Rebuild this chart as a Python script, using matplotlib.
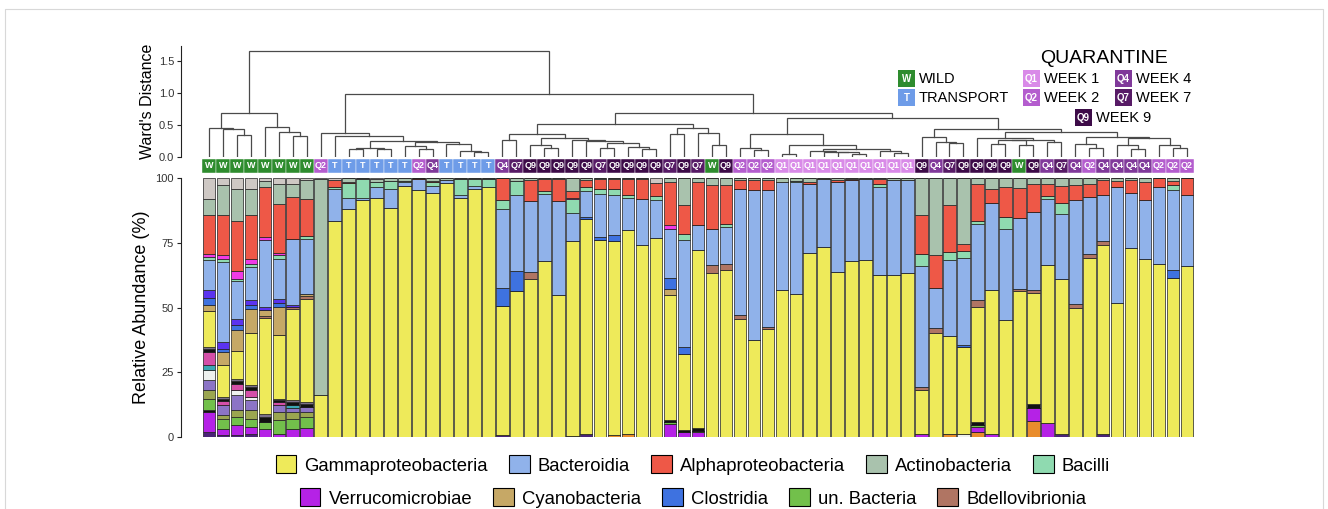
import matplotlib
matplotlib.use("Agg")
import matplotlib.pyplot as plt
from matplotlib.patches import Patch, Rectangle

plt.rcParams['font.family'] = ['Liberation Sans', 'DejaVu Sans']

N = 71


def sparse(vals):
    out = [0.0] * N
    for k, v in vals.items():
        out[k] = v
    return out


# sample group of each bar, left to right (dendrogram order)
samples = ['W', 'W', 'W', 'W', 'W', 'W', 'W', 'W', 'Q2', 'T',
           'T', 'T', 'T', 'T', 'T', 'Q2', 'Q4', 'T', 'T', 'T',
           'T', 'Q4', 'Q7', 'Q9', 'Q9', 'Q9', 'Q9', 'Q9', 'Q7', 'Q9',
           'Q9', 'Q9', 'Q9', 'Q7', 'Q9', 'Q7', 'W', 'Q9', 'Q2', 'Q2',
           'Q2', 'Q1', 'Q1', 'Q1', 'Q1', 'Q1', 'Q1', 'Q1', 'Q1', 'Q1',
           'Q1', 'Q9', 'Q4', 'Q7', 'Q9', 'Q9', 'Q9', 'Q9', 'W', 'Q9',
           'Q4', 'Q7', 'Q4', 'Q2', 'Q4', 'Q4', 'Q4', 'Q4', 'Q2', 'Q2', 'Q2']

group_colors = {'W': '#2E8C2E', 'T': '#6E9CE8', 'Q1': '#D98AE8',
                'Q2': '#B45DCE', 'Q4': '#80399A', 'Q7': '#571B66',
                'Q9': '#3D0B48'}

# Ward clustering tree: (left, right, height), leaves are bar indices
w_left = (0, (1, (2, 3, 0.34), 0.43), 0.45)
w_right = (4, (5, (6, 7, 0.33), 0.385), 0.47)
wild = (w_left, w_right, 0.69)

t_a = ((10, 11, 0.13), (12, 13, 0.13), 0.147)
t_b = (14, (15, 16, 0.13), 0.167)
t_c = (17, (18, (19, 20, 0.073), 0.094), 0.21)
trans = (8, (9, (t_a, (t_b, t_c, 0.23), 0.245), 0.33), 0.375)

f_grp = (26, (27, ((28, 29, 0.14), (30, (31, 32, 0.12), 0.16), 0.22), 0.245), 0.265)
e_grp = ((23, (24, 25, 0.14), 0.18), f_grp, 0.29)
m1 = ((21, 22, 0.26), e_grp, 0.365)
m2 = ((33, 34, 0.36), (35, (36, 37, 0.18), 0.37), 0.45)
mid = (m1, m2, 0.52)

q1_grp = ((41, 42, 0.05),
          ((43, (44, (45, (46, 47, 0.052), 0.078), 0.082), 0.094),
           (48, (49, 50, 0.068), 0.094), 0.125), 0.19)
p_grp = ((38, (39, 40, 0.115), 0.146), q1_grp, 0.365)
l_grp = (51, (52, (53, 54, 0.22), 0.235), 0.31)
s_grp = (55, (((56, 57, 0.21), (58, 59, 0.18), 0.26), (60, 61, 0.235), 0.27), 0.29)
t_grp = ((62, (63, 64, 0.14), 0.21),
         ((65, (66, 67, 0.13), 0.18), (68, (69, 70, 0.146), 0.18), 0.29), 0.31)
late = (p_grp, (l_grp, (s_grp, t_grp, 0.39), 0.43), 0.61)

tree = (wild, (trans, (mid, late, 0.69), 0.975), 1.65)

# relative abundances (%)
gamma = [13.8, 12.5, 10.6, 20.4, 36.9, 24.5, 35.1, 39.9, 16.3, 83.4,
         88.2, 91.4, 92.1, 88.5, 96.9, 95.2, 94.3, 98.1, 92.4, 95.9,
         96.5, 49.9, 56.4, 61.1, 67.8, 55.0, 75.1, 83.0, 76.2, 75.1,
         79.1, 74.3, 77.0, 48.3, 29.6, 68.6, 63.3, 64.3, 45.7, 37.3,
         41.8, 56.9, 55.3, 71.0, 73.2, 63.7, 67.8, 68.2, 62.4, 62.7,
         63.3, 16.7, 40.2, 37.6, 33.4, 44.3, 55.9, 45.0, 56.4, 42.8,
         61.0, 59.8, 49.8, 69.1, 73.0, 51.7, 73.0, 68.9, 66.7, 61.4, 66.0]
bacteroidia = [11.6, 30.9, 14.4, 12.8, 25.7, 15.2, 25.8, 21.3, 0, 12.2,
               3.9, 1.0, 4.6, 7.1, 1.5, 4.5, 2.8, 1.0, 0.9, 1.0,
               0, 30.7, 29.5, 27.3, 26.2, 36.0, 11.1, 9.9, 16.7, 15.4,
               12.2, 17.5, 14.4, 19.0, 41.2, 9.6, 13.9, 14.2, 48.9, 57.9,
               52.8, 41.6, 43.2, 26.8, 26.3, 34.7, 31.3, 31.3, 34.1, 36.4,
               35.8, 46.7, 15.6, 29.3, 33.5, 29.6, 33.6, 35.4, 27.4, 30.3,
               25.5, 24.9, 40.0, 21.9, 17.8, 44.8, 21.3, 22.5, 29.8, 30.9, 27.6]
alpha = [15.0, 15.5, 19.3, 17.2, 19.3, 18.9, 16.1, 14.2, 0, 2.6,
         0.5, 0, 0, 0, 0, 0.3, 0.6, 0, 0, 0,
         0, 8.6, 0, 8.1, 4.6, 8.8, 2.6, 2.6, 3.9, 4.1,
         5.9, 7.7, 5.1, 16.8, 10.9, 16.7, 16.8, 15.3, 3.2, 3.9,
         4.2, 0, 0, 0.8, 0, 0.8, 0.5, 0, 1.7, 0,
         0, 15.1, 12.9, 18.0, 3.0, 14.5, 5.1, 11.6, 11.4, 10.6,
         4.8, 6.4, 6.0, 5.1, 5.8, 2.2, 5.1, 7.1, 3.5, 1.5, 6.4]
actino = [6.2, 11.6, 12.6, 10.1, 2.2, 7.7, 5.1, 7.3, 83.2, 0,
          1.6, 0.5, 1.3, 1.2, 1.0, 0, 1.0, 0.9, 0.5, 0.5,
          0.3, 0, 1.3, 0.9, 0.5, 0.2, 5.1, 0.8, 0.3, 0.3,
          0.5, 0.5, 0, 1.5, 10.6, 1.6, 2.8, 2.6, 0.9, 0.9,
          0.6, 1.5, 1.0, 1.4, 0.5, 0.8, 0.4, 0.5, 0.5, 0.9,
          0.9, 14.1, 29.6, 10.6, 25.3, 2.2, 4.4, 3.5, 3.9, 2.5,
          2.2, 3.1, 2.6, 2.2, 0.9, 1.3, 0.6, 1.5, 0, 1.3, 0]
bacilli = [1.3, 1.0, 1.0, 1.3, 0, 1.5, 0, 1.0, 0, 0.9,
           5.8, 7.1, 1.7, 3.2, 0.6, 0, 1.3, 0, 6.2, 2.6,
           3.2, 3.2, 5.1, 0, 0.9, 0, 5.2, 1.7, 1.9, 2.1,
           1.3, 0, 1.5, 0, 2.6, 0, 0, 1.0, 0, 0,
           0, 0, 0.5, 0, 0, 0, 0, 0, 1.3, 0,
           0, 4.8, 0, 3.2, 2.6, 0.9, 0, 4.5, 0, 0,
           1.0, 4.5, 0, 0, 0, 0, 0, 0, 0, 1.9, 0]
verruco = sparse({0: 7.7, 1: 2.6, 2: 3.6, 3: 2.6, 4: 3.2, 5: 1.3, 6: 3.2, 7: 3.5,
                  33: 5.1, 34: 2.0, 35: 2.0, 51: 1.3, 55: 2.0, 56: 1.0, 59: 5.1, 60: 5.5})
cyano = sparse({0: 2.3, 1: 4.9, 2: 8.1, 3: 9.0, 4: 2.1, 5: 10.9, 7: 0.9, 33: 2.6})
clostri = sparse({0: 2.9, 1: 1.0, 2: 1.9, 3: 1.5, 5: 1.6, 21: 7.0, 22: 7.7, 27: 1.0,
                  28: 1.0, 29: 2.4, 33: 4.1, 34: 2.5, 54: 0.9, 69: 3.0})
unbact = sparse({0: 4.5, 1: 3.9, 2: 3.2, 3: 3.2, 4: 2.6, 5: 5.1, 6: 3.9, 7: 4.2,
                 33: 0.7, 35: 0.5, 55: 0.9})
bdello = sparse({4: 1.0, 6: 0.8, 7: 1.0, 23: 2.6, 36: 3.2, 37: 2.6, 38: 1.3, 40: 0.6,
                 51: 1.3, 52: 1.7, 55: 2.7, 58: 0.9, 59: 0.9, 62: 1.6, 63: 1.7, 64: 1.5})

# minor taxa without a legend entry
orange = sparse({29: 0.6, 30: 1.0, 53: 1.3, 55: 1.9, 59: 6.0})
dark = sparse({0: 1.9, 1: 0.6, 2: 0.9, 3: 1.3, 21: 0.6, 26: 0.4, 27: 1.0, 61: 1.3, 64: 1.0})
blk_lo = sparse({0: 0.7})
olive = sparse({0: 3.2, 1: 1.3, 2: 2.6, 3: 3.2, 5: 3.3, 6: 2.6, 7: 2.0})
lavender = sparse({0: 3.9, 1: 3.8, 2: 5.8, 3: 3.9, 5: 2.5, 6: 1.5, 7: 1.9})
white = sparse({0: 3.9, 2: 2.0, 3: 1.2, 54: 1.3})
teal = sparse({0: 1.9, 6: 1.0})
pink = sparse({0: 5.0, 1: 1.6, 2: 2.4, 3: 2.6, 5: 1.3})
blk_hi = sparse({0: 1.4, 1: 1.0, 2: 1.3, 3: 1.2, 4: 1.8, 5: 0.9, 6: 1.3, 7: 1.2,
                 33: 0.6, 34: 0.6, 35: 1.0, 55: 1.0, 59: 1.8})
grey_hi = sparse({0: 0.6, 1: 0.6, 2: 0.7, 3: 0.7, 4: 1.4, 5: 0.4, 6: 0.7, 7: 0.7})
violet = sparse({0: 2.9, 1: 2.9, 2: 2.6, 3: 2.0, 4: 1.2, 5: 1.6, 6: 0.7})
magenta = sparse({0: 1.3, 1: 1.5, 2: 2.9, 3: 1.7, 4: 1.3, 5: 1.1, 26: 0.5, 33: 1.3})
lightgrey = sparse({0: 8.0, 1: 2.8, 2: 4.1, 3: 4.1, 4: 1.3, 5: 2.2, 6: 2.2, 7: 0.9,
                    8: 0.5, 9: 0.9, 12: 0.3, 32: 2.0})

# stacking order, bottom to top
stack = [
    (orange, '#E98C2C', None),
    (dark, '#4A2378', None),
    (verruco, '#B522E6', 'Verrucomicrobiae'),
    (blk_lo, '#111111', None),
    (unbact, '#72C04B', 'un. Bacteria'),
    (olive, '#9BA650', None),
    (lavender, '#8C74C6', None),
    (white, '#EEF1EF', None),
    (teal, '#3BA7B3', None),
    (pink, '#D44FA8', None),
    (blk_hi, '#111111', None),
    (grey_hi, '#7A6F8A', None),
    (gamma, '#EEEA5A', 'Gammaproteobacteria'),
    (bdello, '#B07563', 'Bdellovibrionia'),
    (cyano, '#C6A866', 'Cyanobacteria'),
    (clostri, '#3E72E0', 'Clostridia'),
    (violet, '#5B33F0', None),
    (bacteroidia, '#90B2EA', 'Bacteroidia'),
    (bacilli, '#8FDAB0', 'Bacilli'),
    (magenta, '#F03AE6', None),
    (alpha, '#EE5847', 'Alphaproteobacteria'),
    (actino, '#A9C2AD', 'Actinobacteria'),
    (lightgrey, '#CEC8C4', None),
]

legend_rows = [['Gammaproteobacteria', 'Bacteroidia', 'Alphaproteobacteria',
                'Actinobacteria', 'Bacilli'],
               ['Verrucomicrobiae', 'Cyanobacteria', 'Clostridia',
                'un. Bacteria', 'Bdellovibrionia']]

W, H = 1328, 509
fig = plt.figure(figsize=(W / 100, H / 100), dpi=100)

x_lo, x_hi = -2.0, 70.57
ax_l, ax_w = 181 / W, 1014 / W

# ---------------- dendrogram ----------------
axd = fig.add_axes([ax_l, 1 - 157 / H, ax_w, 111 / H])


def draw_tree(ax, node):
    if isinstance(node, int):
        return float(node), 0.0
    left, right, h = node
    xl, hl = draw_tree(ax, left)
    xr, hr = draw_tree(ax, right)
    ax.plot([xl, xl, xr, xr], [hl, h, h, hr], color='#4A4A4A', lw=0.9,
            solid_joinstyle='miter')
    return (xl + xr) / 2, h


draw_tree(axd, tree)
axd.set_xlim(x_lo, x_hi)
axd.set_ylim(0, 1.73)
for s in ['top', 'right', 'bottom']:
    axd.spines[s].set_visible(False)
axd.spines['left'].set_color('#222222')
axd.spines['left'].set_linewidth(0.8)
axd.set_xticks([])
axd.set_yticks([0, 0.5, 1.0, 1.5])
axd.set_yticklabels(['0.0', '0.5', '1.0', '1.5'])
axd.tick_params(axis='y', length=3, width=0.8, pad=2, labelsize=8,
                labelcolor='#333333', color='#222222')
axd.set_ylabel("Ward's Distance", fontsize=11.5, labelpad=3)
axd.patch.set_alpha(0)

# ---------------- sample label strip ----------------
axs = fig.add_axes([ax_l, 1 - 173 / H, ax_w, 14.5 / H])
xs = list(range(N))
axs.bar(xs, [1] * N, width=1.0, bottom=0,
        color=[group_colors[g] for g in samples], edgecolor='white', linewidth=0.3)
for i, g in enumerate(samples):
    axs.text(i, 0.5, g, ha='center', va='center', color='white',
             fontsize=6.5, fontweight='bold')
axs.set_xlim(x_lo, x_hi)
axs.set_ylim(0, 1)
axs.axis('off')

# ---------------- stacked bars ----------------
axb = fig.add_axes([ax_l, 1 - 437 / H, ax_w, 259 / H])
totals = [sum(vals[i] for vals, _, _ in stack) for i in range(N)]
bottoms = [0.0] * N
handles = {}
for vals, col, lab in stack:
    heights = [vals[i] * 100.0 / totals[i] for i in range(N)]
    axb.bar(xs, heights, width=0.9, bottom=bottoms, color=col,
            edgecolor='#1E1E1E', linewidth=0.5)
    bottoms = [b + h for b, h in zip(bottoms, heights)]
    if lab:
        handles[lab] = Patch(facecolor=col, edgecolor='black', linewidth=0.8)

axb.set_xlim(x_lo, x_hi)
axb.set_ylim(0, 100)
for s in ['top', 'right', 'bottom']:
    axb.spines[s].set_visible(False)
axb.spines['left'].set_color('#222222')
axb.spines['left'].set_linewidth(0.8)
axb.set_xticks([])
axb.set_yticks([0, 25, 50, 75, 100])
axb.tick_params(axis='y', length=3, width=0.8, pad=2, labelsize=8,
                labelcolor='#333333', color='#222222')
axb.set_ylabel('Relative Abundance (%)', fontsize=13, labelpad=4)

# ---------------- group key (top right) ----------------
ov = fig.add_axes([0, 0, 1, 1], zorder=5)
ov.set_xlim(0, W)
ov.set_ylim(H, 0)
ov.axis('off')
ov.patch.set_alpha(0)

ov.text(1104, 58, 'QUARANTINE', ha='center', va='center', fontsize=14)
key = [('W', 'WILD', 898, 70), ('T', 'TRANSPORT', 898, 89),
       ('Q1', 'WEEK 1', 1023, 70), ('Q2', 'WEEK 2', 1023, 89),
       ('Q4', 'WEEK 4', 1115, 70), ('Q7', 'WEEK 7', 1115, 89),
       ('Q9', 'WEEK 9', 1075, 109)]
for g, name, kx, ky in key:
    ov.add_patch(Rectangle((kx, ky), 17, 17, facecolor=group_colors[g],
                           edgecolor='none'))
    ov.text(kx + 8.5, ky + 8.8, g, ha='center', va='center', color='white',
            fontsize=7, fontweight='bold')
    ov.text(kx + 21, ky + 9, name, ha='left', va='center', fontsize=10.5)

# faint outer frame
ov.plot([5, 5, 1323, 1323], [H, 9, 9, H], color='#D8D8D8', lw=0.8)

# ---------------- taxa legend ----------------
for row, yc in zip(legend_rows, [465, 498]):
    fig.legend(handles=[handles[n] for n in row], labels=row, loc='center',
               bbox_to_anchor=(693 / W, 1 - yc / H), ncol=5, frameon=False,
               fontsize=13.3, handlelength=1.1, handleheight=1.1,
               handletextpad=0.45, columnspacing=1.15, borderpad=0,
               borderaxespad=0)

fig.savefig('out.png', dpi=100)
